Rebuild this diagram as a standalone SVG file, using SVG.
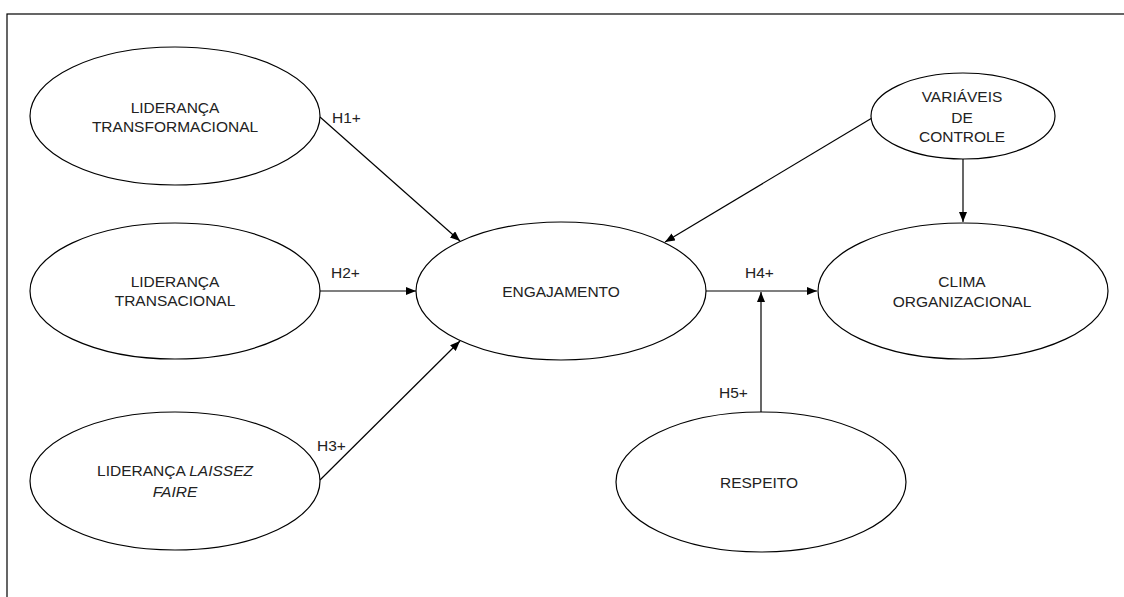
<svg xmlns="http://www.w3.org/2000/svg" width="1124" height="597" viewBox="0 0 1124 597">
<style>
.n{fill:#fff;stroke:#000;stroke-width:1.2}
.t{font-family:"Liberation Sans",Arial,sans-serif;font-size:15.5px;fill:#222;text-anchor:middle}
.l{font-family:"Liberation Sans",Arial,sans-serif;font-size:15.5px;fill:#222}
.c{stroke:#000;stroke-width:1.2;fill:none;marker-end:url(#a)}
</style>
<defs>
<marker id="a" viewBox="0 0 10 8" refX="10" refY="4" markerWidth="10" markerHeight="8" markerUnits="userSpaceOnUse" orient="auto">
<path d="M0,0 L10,4 L0,8 z" fill="#000"/>
</marker>
</defs>
<rect width="1124" height="597" fill="#fff"/>
<rect x="7" y="14" width="1130" height="600" fill="none" stroke="#000" stroke-width="1.2"/>
<g id="connectors">
<line class="c" x1="320" y1="117" x2="460" y2="241"/>
<line class="c" x1="319" y1="291" x2="416" y2="291"/>
<line class="c" x1="320" y1="480" x2="460" y2="341"/>
<line class="c" x1="872" y1="118" x2="665" y2="242"/>
<line class="c" x1="963" y1="159" x2="963" y2="222"/>
<line class="c" x1="706" y1="291" x2="817" y2="291"/>
<line class="c" x1="761" y1="412" x2="761" y2="292"/>
<text class="l" x="332" y="123">H1+</text>
<text class="l" x="331" y="278">H2+</text>
<text class="l" x="317" y="451">H3+</text>
<text class="l" x="745" y="278">H4+</text>
<text class="l" x="719" y="398">H5+</text>
</g>
<g id="lid-transformacional">
<ellipse class="n" cx="175" cy="116" rx="145" ry="69"/>
<text class="t" x="175" y="113">LIDERANÇA</text>
<text class="t" x="175" y="132">TRANSFORMACIONAL</text>
</g>
<g id="lid-transacional">
<ellipse class="n" cx="175" cy="291" rx="145" ry="68"/>
<text class="t" x="175" y="287">LIDERANÇA</text>
<text class="t" x="175" y="306">TRANSACIONAL</text>
</g>
<g id="lid-laissez">
<ellipse class="n" cx="175" cy="481" rx="145" ry="69"/>
<text class="t" x="175" y="476">LIDERANÇA <tspan font-style="italic">LAISSEZ</tspan></text>
<text class="t" x="175" y="497" font-style="italic">FAIRE</text>
</g>
<g id="engajamento">
<ellipse class="n" cx="561" cy="291" rx="145" ry="69"/>
<text class="t" x="561" y="297">ENGAJAMENTO</text>
</g>
<g id="variaveis">
<ellipse class="n" cx="963" cy="116" rx="92" ry="43"/>
<text class="t" x="962" y="102">VARIÁVEIS</text>
<text class="t" x="962" y="123">DE</text>
<text class="t" x="962" y="142">CONTROLE</text>
</g>
<g id="clima">
<ellipse class="n" cx="963" cy="291" rx="145" ry="68"/>
<text class="t" x="962" y="287">CLIMA</text>
<text class="t" x="962" y="307">ORGANIZACIONAL</text>
</g>
<g id="respeito">
<ellipse class="n" cx="761" cy="482" rx="145" ry="70"/>
<text class="t" x="759" y="488">RESPEITO</text>
</g>
</svg>
